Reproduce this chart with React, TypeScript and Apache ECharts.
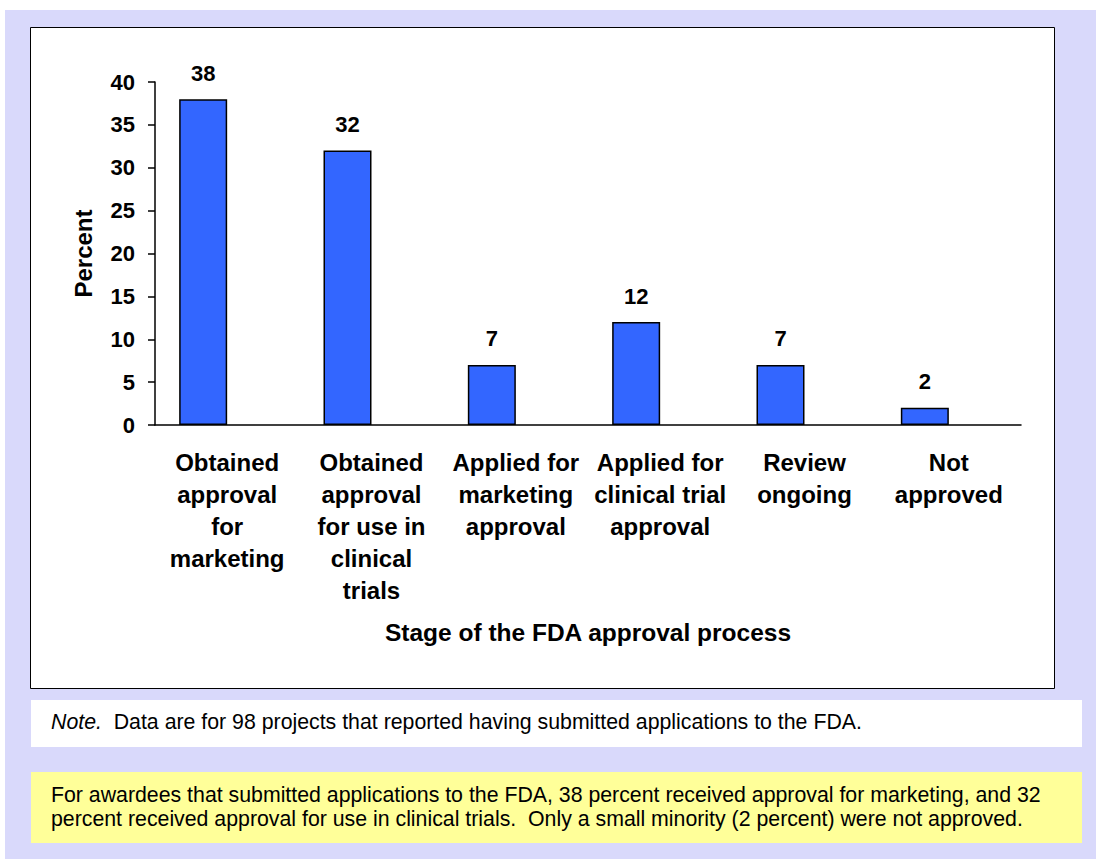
import React, { useEffect, useRef } from "react";
import * as echarts from "echarts";

const categories = [
  "Obtained\napproval\nfor\nmarketing",
  "Obtained\napproval\nfor use in\nclinical\ntrials",
  "Applied for\nmarketing\napproval",
  "Applied for\nclinical trial\napproval",
  "Review\nongoing",
  "Not\napproved",
];
const percentValues = [38, 32, 7, 12, 7, 2];
const spacerValues = [0, 0, 0, 0, 0, 0];
const yTicks = { min: 0, max: 40, interval: 5 };

const xAxisTitle = "Stage of the FDA approval process";
const yAxisTitle = "Percent";
const noteRest = "  Data are for 98 projects that reported having submitted applications to the FDA.";
const summaryText =
  "For awardees that submitted applications to the FDA, 38 percent received approval for marketing, and 32\npercent received approval for use in clinical trials.  Only a small minority (2 percent) were not approved.";

const FONT = '"Liberation Sans", Arial, sans-serif';

export default function App() {
  const ref = useRef<HTMLDivElement>(null);
  useEffect(() => {
    if (!ref.current) return;
    const chart = echarts.init(ref.current, null, { renderer: "svg" });
    chart.setOption({
      animation: false,
      backgroundColor: "#ffffff",
      graphic: [
        {
          type: "rect",
          z: -10,
          silent: true,
          shape: { x: 5, y: 10, width: 1091, height: 849 },
          style: { fill: "#D9D9FB" },
        },
        {
          type: "rect",
          z: -9,
          silent: true,
          shape: { x: 30.5, y: 27.5, width: 1024, height: 661 },
          style: { fill: "#ffffff", stroke: "#000000", lineWidth: 1 },
        },
        {
          type: "rect",
          z: -9,
          silent: true,
          shape: { x: 31, y: 700, width: 1051, height: 47 },
          style: { fill: "#ffffff" },
        },
        {
          type: "rect",
          z: -9,
          silent: true,
          shape: { x: 31, y: 772, width: 1051, height: 71 },
          style: { fill: "#FFFF99" },
        },
        {
          type: "text",
          x: 51,
          y: 722,
          silent: true,
          style: {
            text: "{i|Note.}" + noteRest,
            verticalAlign: "middle",
            fill: "#000",
            font: "21.3px " + FONT,
            rich: {
              i: { fontStyle: "italic", fontSize: 21.3, fontFamily: FONT, fill: "#000" },
            },
          },
        },
        {
          type: "text",
          x: 51,
          y: 783,
          silent: true,
          style: {
            text: summaryText,
            verticalAlign: "top",
            fill: "#000",
            font: "21.3px " + FONT,
            lineHeight: 24,
          },
        },
      ],
      grid: { left: 155, right: 75, top: 82, bottom: 434, containLabel: false },
      xAxis: {
        type: "category",
        data: categories,
        name: xAxisTitle,
        nameLocation: "middle",
        nameGap: 195,
        nameTextStyle: {
          fontFamily: FONT,
          fontWeight: "bold",
          fontSize: 24.5,
          lineHeight: 24,
          color: "#000",
        },
        axisLine: { lineStyle: { color: "#000", width: 1.5 } },
        axisTick: { show: false },
        axisLabel: {
          interval: 0,
          margin: 21,
          fontFamily: FONT,
          fontWeight: "bold",
          fontSize: 24,
          lineHeight: 32,
          color: "#000",
        },
        splitLine: { show: false },
      },
      yAxis: {
        type: "value",
        min: yTicks.min,
        max: yTicks.max,
        interval: yTicks.interval,
        name: yAxisTitle,
        nameLocation: "middle",
        nameGap: 60,
        nameTextStyle: {
          fontFamily: FONT,
          fontWeight: "bold",
          fontSize: 24,
          color: "#000",
        },
        axisLine: { show: true, lineStyle: { color: "#000", width: 1.5 } },
        axisTick: { show: true, inside: false, length: 7, lineStyle: { color: "#000", width: 1.5 } },
        axisLabel: {
          margin: 20,
          fontFamily: FONT,
          fontWeight: "bold",
          fontSize: 22,
          color: "#000",
        },
        splitLine: { show: false },
      },
      series: [
        {
          type: "bar",
          data: percentValues,
          barWidth: 48,
          barGap: "0%",
          itemStyle: { color: "#3366FF", borderColor: "#000", borderWidth: 1.5 },
          label: {
            show: true,
            position: "top",
            distance: 15,
            fontFamily: FONT,
            fontWeight: "bold",
            fontSize: 22,
            color: "#000",
          },
        },
        {
          type: "bar",
          data: spacerValues,
          barWidth: 48,
          barGap: "0%",
          silent: true,
          itemStyle: { color: "transparent", borderWidth: 0 },
          label: { show: false },
        },
      ],
    });
    return () => chart.dispose();
  }, []);
  return (
    <div
      ref={ref}
      style={{ position: "fixed", left: 0, top: 0, width: 1096, height: 859 }}
    />
  );
}
